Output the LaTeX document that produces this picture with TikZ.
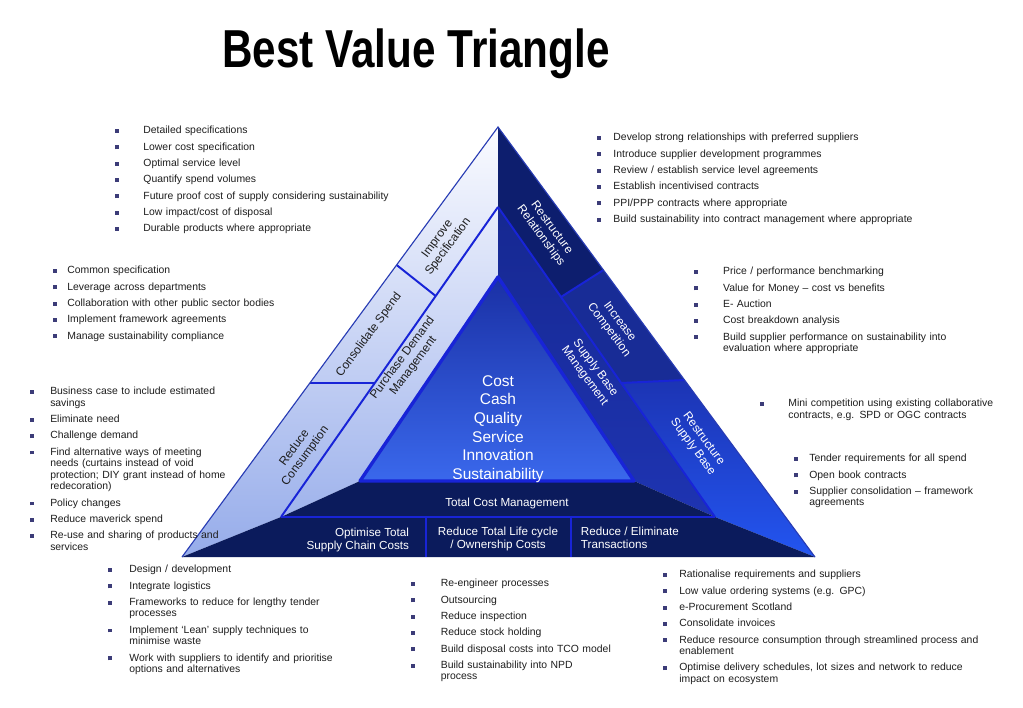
\documentclass[tikz,border=0pt]{standalone}
\usepackage{fontspec}
\setmainfont{Liberation Sans}
\usepackage{xcolor}
\usepackage{tikz}
\usetikzlibrary{positioning, calc}

\definecolor{navy}{RGB}{11,27,92}
\definecolor{relblue}{RGB}{13,30,110}
\definecolor{compblue}{RGB}{24,44,150}
\definecolor{sbmtop}{RGB}{22,40,145}
\definecolor{sbmbot}{RGB}{30,52,178}
\definecolor{rsbtop}{RGB}{28,52,180}
\definecolor{rsbbot}{RGB}{35,85,240}
\definecolor{coretop}{RGB}{26,48,165}
\definecolor{corebot}{RGB}{58,104,236}
\definecolor{lighttop}{RGB}{250,251,255}
\definecolor{lightbot}{RGB}{150,172,234}
\definecolor{edgeblue}{RGB}{24,36,215}
\definecolor{rimblue}{RGB}{40,60,180}
\definecolor{bulletc}{RGB}{60,60,120}
\definecolor{textc}{RGB}{30,30,30}

\newlength{\bgap}
\newcommand{\bsq}{\textcolor{bulletc}{\rule[0.6pt]{2.7pt}{2.7pt}}}
\newcommand{\bitem}[1]{\par\noindent\hangindent=\bgap\hangafter=1\makebox[\bgap][l]{\rule{0pt}{6pt}\bsq}#1\par\vspace{3.4pt}}

\begin{document}
\begin{tikzpicture}[x=0.025cm, y=-0.025cm,
    lbl/.style={font=\fontsize{8.5}{9.6}\selectfont, align=center, text=textc},
    dlbl/.style={font=\fontsize{8.5}{9.6}\selectfont, align=center, text=white},
    band/.style={font=\fontsize{8.3}{9.2}\selectfont, align=center, text=white},
    blist/.style={anchor=north west, inner sep=0pt, text width=9cm, text=textc,
        font=\fontsize{7.4}{8.2}\selectfont, execute at begin node={\raggedright\setlength{\bgap}{#1}}},
    blist/.default=12pt,
    divider/.style={draw=edgeblue, line width=1.4pt}
]
\path[fill=white, use as bounding box] (0,0) rectangle (1023,708);

% Title
\node (title) [anchor=base] at (416,68) {\scalebox{0.79}[1]{\fontsize{38}{40}\selectfont\bfseries Best Value Triangle}};

% Corner points of the triangle
\coordinate (apex) at (498,127);
\coordinate (bl) at (182,557);
\coordinate (br) at (815,557);
\coordinate (split) at (498,207);
\coordinate (inapex) at (498,277);
\coordinate (inl) at (360,481);
\coordinate (inr) at (634,481);
\coordinate (sl) at (281,517);
\coordinate (sr) at (715,517);
\coordinate (isa) at (396.6,265);
\coordinate (isb) at (435.7,296);
\coordinate (csa) at (309.9,383);
\coordinate (csb) at (374.8,383);
\coordinate (rra) at (561,297);
\coordinate (rrb) at (603.4,270);
\coordinate (ica) at (621.2,383);
\coordinate (icb) at (684.5,380);
\coordinate (bsa) at (426,517);
\coordinate (bsb) at (426,557);
\coordinate (bsc) at (571,517);
\coordinate (bsd) at (571,557);

% Left side (light)
\shade[top color=lighttop, bottom color=lightbot] (apex) -- (inapex) -- (inl) -- (sl) -- (bl) -- cycle;

% Right side (dark)
\fill[relblue] (apex) -- (split) -- (rra) -- (rrb) -- cycle;
\fill[compblue] (rra) -- (ica) -- (icb) -- (rrb) -- cycle;
\shade[top color=rsbtop, bottom color=rsbbot] (ica) -- (sr) -- (br) -- (icb) -- cycle;
\shade[top color=sbmtop, bottom color=sbmbot] (split) -- (inapex) -- (inr) -- (sr) -- cycle;

% Bottom bands
\fill[navy] (sl) -- (inl) -- (inr) -- (sr) -- cycle;
\fill[navy] (bl) -- (sl) -- (sr) -- (br) -- cycle;

% Dividers
\draw[divider] (split) -- (sl);
\draw[divider] (split) -- (sr);
\draw[divider] (isa) -- (isb);
\draw[divider] (csa) -- (csb);
\draw[divider] (rra) -- (rrb);
\draw[divider] (ica) -- (icb);
\draw[divider, line width=2pt] (sl) -- (sr);
\draw[divider] (bsa) -- (bsb);
\draw[divider] (bsc) -- (bsd);
\draw[draw=rimblue, line width=0.8pt] (bl) -- (apex) -- (br);

% Core triangle
\shade[top color=coretop, bottom color=corebot] (inapex) -- (inl) -- (inr) -- cycle;
\draw[draw=edgeblue, line width=2.4pt, line join=round] (inapex) -- (inl) -- (inr) -- cycle;
\node (core) [anchor=north, inner sep=0pt, align=center, text=white, font=\fontsize{11}{13.3}\selectfont] at (498,375) {Cost\\Cash\\Quality\\Service\\Innovation\\Sustainability};

% Strip labels
\node (improve) [lbl, rotate=53.5] at (443,243) {Improve\\Specification};
\node (consol) [lbl, rotate=53.5] at (369,335) {Consolidate Spend};
\node (reduce) [lbl, rotate=53.5] at (300,452) {Reduce\\Consumption};
\node (demand) [lbl, rotate=53.5] at (408,362) {Purchase Demand\\Management};
\node (relation) [dlbl, rotate=-53.5] at (546,232) {Restructure\\Relationships};
\node (compet) [dlbl, rotate=-53.5] at (614,326) {Increase\\Competition};
\node (supbase) [dlbl, rotate=-53.5] at (590,372) {Supply Base\\Management};
\node (restruct) [dlbl, rotate=-53.5] at (698,443) {Restructure\\Supply Base};

% Band labels
\node (tcm) [band] at (507,503) {Total Cost Management};
\node (optim) [band, align=right, anchor=east] at (414,540) {Optimise Total\\Supply Chain Costs};
\node (lifecyc) [band] at (498,539) {Reduce Total Life cycle\\/ Ownership Costs};
\node (trans) [band, align=left, anchor=west] at (576,538) {Reduce / Eliminate\\Transactions};

% Lists
\node (specs) [blist=20pt] at (115,122) {%
  \bitem{Detailed specifications}
  \bitem{Lower cost specification}
  \bitem{Optimal service level}
  \bitem{Quantify spend volumes}
  \bitem{Future proof cost of supply considering sustainability}
  \bitem{Low impact/cost of disposal}
  \bitem{Durable products where appropriate}};
\node (relist) [blist=11.5pt] at (597,129) {%
  \bitem{Develop strong relationships with preferred suppliers}
  \bitem{Introduce supplier development programmes}
  \bitem{Review / establish service level agreements}
  \bitem{Establish incentivised  contracts}
  \bitem{PPI/PPP contracts where appropriate}
  \bitem{Build sustainability into contract management where appropriate}};
\node (conlist) [blist=10pt] at (53,262) {%
  \bitem{Common specification}
  \bitem{Leverage across departments}
  \bitem{Collaboration with other public sector bodies}
  \bitem{Implement framework agreements}
  \bitem{Manage sustainability compliance}};
\node (complist) [blist=20.5pt] at (694,263) {%
  \bitem{Price / performance benchmarking}
  \bitem{Value for Money – cost vs benefits}
  \bitem{E- Auction}
  \bitem{Cost breakdown analysis}
  \bitem{Build supplier performance on sustainability into\newline evaluation where appropriate}};
\node (redlist) [blist=14.2pt] at (30,383) {%
  \bitem{Business case to include estimated\newline savings}
  \bitem{Eliminate need}
  \bitem{Challenge demand}
  \bitem{Find alternative ways of meeting\newline needs (curtains instead of void\newline protection; DIY grant instead of home\newline redecoration)}
  \bitem{Policy changes}
  \bitem{Reduce maverick spend}
  \bitem{Re-use and sharing of products and\newline services}};
\node (minilist) [blist=20pt] at (760,395) {%
  \bitem{Mini competition using existing collaborative\newline contracts, e.g. SPD or OGC contracts}};
\node (tendlist) [blist=10.7pt] at (794,450) {%
  \bitem{Tender requirements for all spend}
  \bitem{Open book contracts}
  \bitem{Supplier consolidation – framework\newline agreements}};
\node (chainlist) [blist=15pt] at (108,561) {%
  \bitem{Design / development}
  \bitem{Integrate logistics}
  \bitem{Frameworks to reduce for lengthy tender\newline processes}
  \bitem{Implement ‘Lean’ supply techniques to\newline minimise waste}
  \bitem{Work with suppliers to identify and prioritise\newline options and alternatives}};
\node (lifelist) [blist=21pt] at (411,575) {%
  \bitem{Re-engineer processes}
  \bitem{Outsourcing}
  \bitem{Reduce inspection}
  \bitem{Reduce stock holding}
  \bitem{Build disposal costs into TCO model}
  \bitem{Build sustainability into NPD\newline process}};
\node (translist) [blist=11.4pt] at (663,566) {%
  \bitem{Rationalise requirements  and suppliers}
  \bitem{Low value ordering systems (e.g. GPC)}
  \bitem{e-Procurement Scotland}
  \bitem{Consolidate invoices}
  \bitem{Reduce resource consumption through streamlined process and\newline enablement}
  \bitem{Optimise delivery schedules, lot sizes and network to reduce\newline impact on ecosystem}};

\end{tikzpicture}
\end{document}
